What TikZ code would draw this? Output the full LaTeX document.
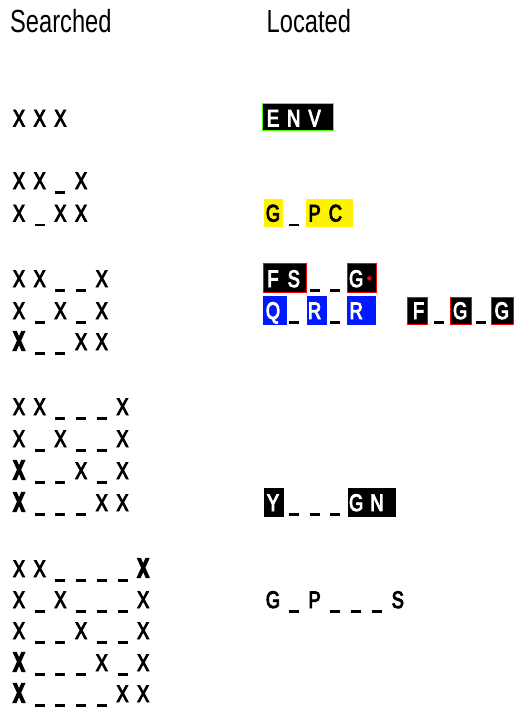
\documentclass[tikz,border=0pt]{standalone}
\usepackage{fontspec}
\setmainfont{Liberation Sans}
\newfontfamily\hdrfont{Liberation Sans}[FakeStretch=0.74]
\newfontfamily\chfont{Liberation Sans}[FakeStretch=0.76,FakeBold=4]
\newfontfamily\chbfont{Liberation Sans}[FakeStretch=0.62,FakeBold=9]
\newcommand\ul{\rule[-4.5pt]{10pt}{2.3pt}}
\newcommand\bx{{\chbfont\fontsize{26}{26}\selectfont X}}
\newcommand\wt[1]{\textcolor{white}{#1}}
% searched row: name, baseline, list
\newcommand\srow[3]{\foreach \ch [count=\i from 0] in {#3} {\node[ch] (#1-\i) at ({19+20.7*\i},#2) {\ch};}}
% located row: name, baseline, start column, list
\newcommand\lrow[4]{\foreach \ch [count=\i from #3] in {#4} {\node[ch] (#1-\i) at ({273+20.8*\i},#2) {\ch};}}
\begin{document}
\begin{tikzpicture}[x=1pt,y=-1pt,
  ch/.style={anchor=base,inner sep=0pt,font=\chfont\fontsize{24}{24}\selectfont},
  hdr/.style={anchor=base west,inner sep=0pt,font=\hdrfont\fontsize{32}{32}\selectfont},
  blk/.style={fill=black},
  blkg/.style={fill=black,draw=green!70!yellow,line width=0.7pt},
  blkr/.style={fill=black,draw=red,line width=0.8pt},
  ylw/.style={fill=yellow},
  blu/.style={fill=blue!90!cyan}]
\useasboundingbox (0,0) rectangle (515,710);
\node[hdr] (hs) at (10,32) {Searched};
\node[hdr] (hl) at (266.5,32) {Located};
% boxes
\path[blkg] (262,103) rectangle (333,130);
\path[ylw] (264,199) rectangle (283,227);
\path[ylw] (306,199) rectangle (353,227);
\path[blkr] (263.5,263.5) rectangle (306,292.5);
\path[blkr] (347,263.5) rectangle (376,292.5);
\fill[red] (369.3,278.3) circle (2.2);
\path[blu] (263,296) rectangle (287,325);
\path[blu] (307,296) rectangle (327,325);
\path[blu] (347,296) rectangle (376,325);
\path[blkr] (407.5,297.5) rectangle (427,324.5);
\path[blkr] (450.5,297.5) rectangle (471,324.5);
\path[blkr] (491.5,297.5) rectangle (513.5,324.5);
\path[blk] (264,488) rectangle (284,517);
\path[blk] (348,488) rectangle (396,517);
% searched
\srow{a1}{126.5}{X,X,X}
\srow{b1}{189}{X,X,\ul,X}
\srow{b2}{221.5}{X,\ul,X,X}
\srow{c1}{287}{X,X,\ul,\ul,X}
\srow{c2}{319}{X,\ul,X,\ul,X}
\srow{c3}{350}{\bx,\ul,\ul,X,X}
\srow{d1}{415}{X,X,\ul,\ul,\ul,X}
\srow{d2}{447}{X,\ul,X,\ul,\ul,X}
\srow{d3}{479}{\bx,\ul,\ul,X,\ul,X}
\srow{d4}{511}{\bx,\ul,\ul,\ul,X,X}
\srow{e1}{577}{X,X,\ul,\ul,\ul,\ul,\bx}
\srow{e2}{608}{X,\ul,X,\ul,\ul,\ul,X}
\srow{e3}{639}{X,\ul,\ul,X,\ul,\ul,X}
\srow{e4}{671}{\bx,\ul,\ul,\ul,X,\ul,X}
\srow{e5}{702}{\bx,\ul,\ul,\ul,\ul,X,X}
% located
\lrow{la}{126.5}{0}{\wt{E},\wt{N},\wt{V}}
\lrow{lb}{221.5}{0}{G,\ul,P,C}
\lrow{lc}{287}{0}{\wt{F},\wt{S},\ul,\ul,\wt{G}}
\lrow{ld}{319}{0}{\wt{Q},\ul,\wt{R},\ul,\wt{R}}
\lrow{le}{319}{7}{\wt{F},\ul,\wt{G},\ul,\wt{G}}
\lrow{lf}{511}{0}{\wt{Y},\ul,\ul,\ul,\wt{G},\wt{N}}
\lrow{lg}{608}{0}{G,\ul,P,\ul,\ul,\ul,S}
\end{tikzpicture}
\end{document}
